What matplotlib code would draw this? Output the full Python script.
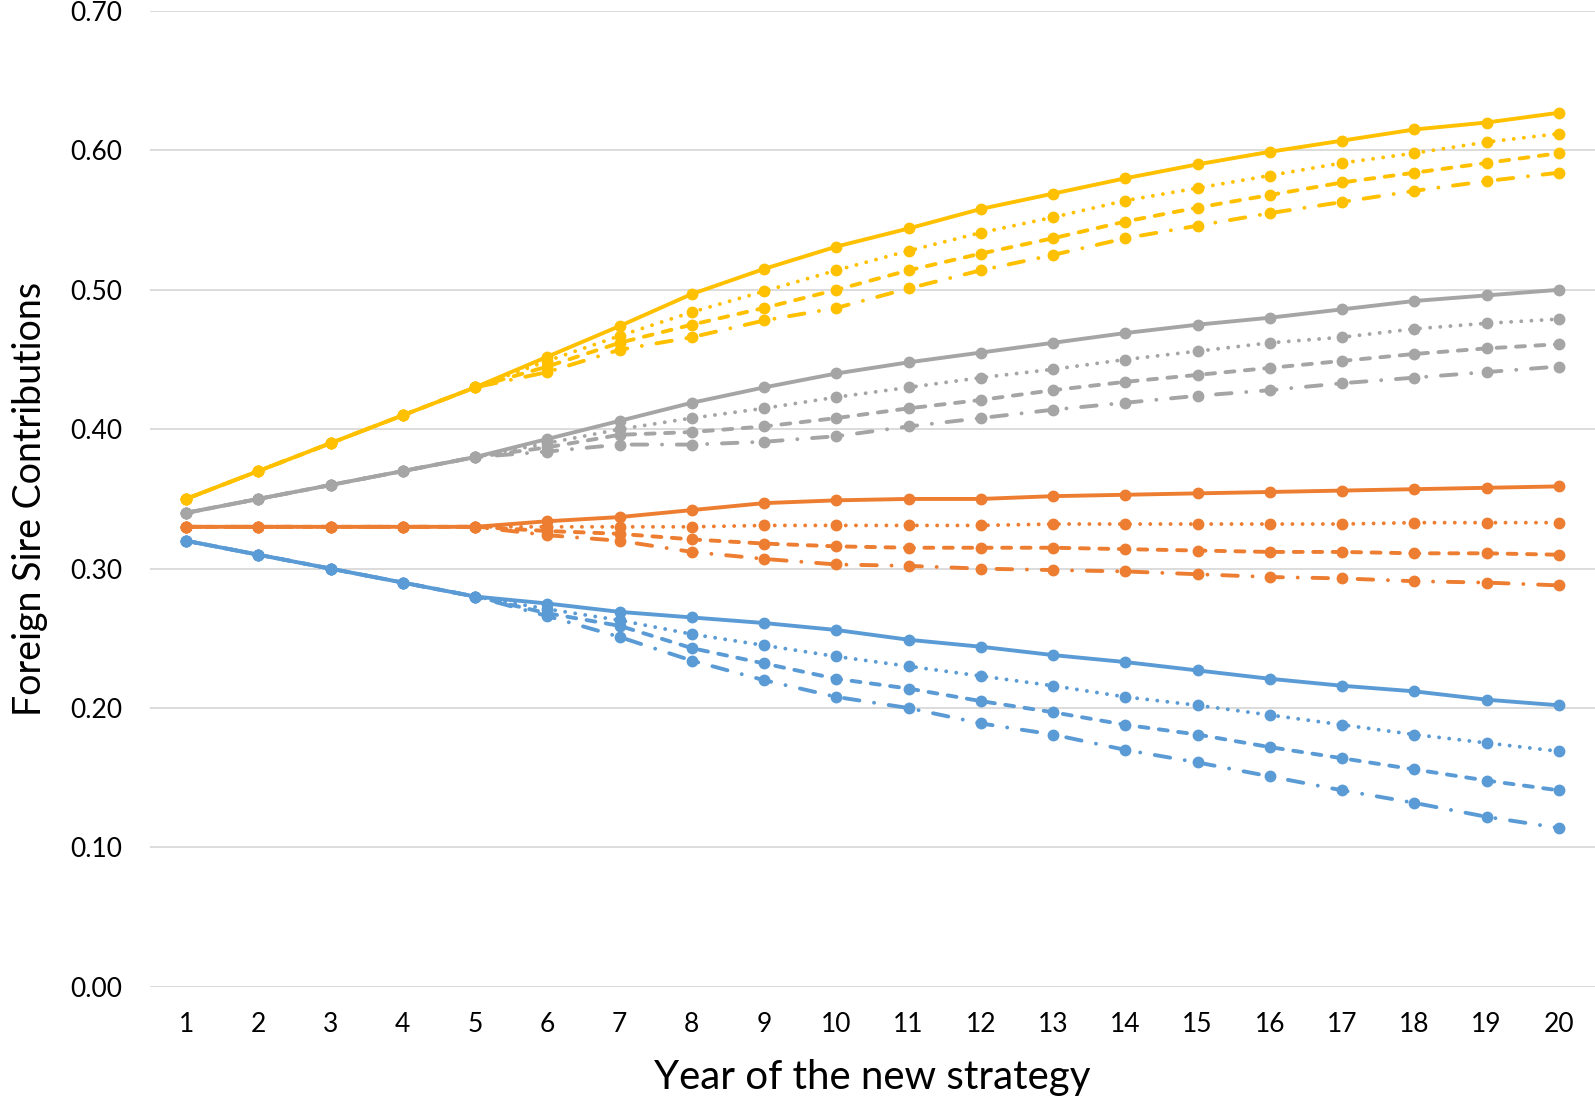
import matplotlib
matplotlib.use("Agg")
import matplotlib.pyplot as plt

years = list(range(1, 21))
yticks = [0.0, 0.1, 0.2, 0.3, 0.4, 0.5, 0.6, 0.7]

# shared first five years per colour group, then the four scenarios diverge
blue_solid = [0.320, 0.310, 0.300, 0.290, 0.280, 0.275, 0.269, 0.265, 0.261, 0.256,
              0.249, 0.244, 0.238, 0.233, 0.227, 0.221, 0.216, 0.212, 0.206, 0.202]
blue_dot = [0.320, 0.310, 0.300, 0.290, 0.280, 0.271, 0.263, 0.253, 0.245, 0.237,
            0.230, 0.223, 0.216, 0.208, 0.202, 0.195, 0.188, 0.181, 0.175, 0.169]
blue_dash = [0.320, 0.310, 0.300, 0.290, 0.280, 0.268, 0.259, 0.243, 0.232, 0.221,
             0.214, 0.205, 0.197, 0.188, 0.181, 0.172, 0.164, 0.156, 0.148, 0.141]
blue_dashdot = [0.320, 0.310, 0.300, 0.290, 0.280, 0.266, 0.251, 0.234, 0.220, 0.208,
                0.200, 0.189, 0.181, 0.170, 0.161, 0.151, 0.141, 0.132, 0.122, 0.114]

orange_solid = [0.330, 0.330, 0.330, 0.330, 0.330, 0.334, 0.337, 0.342, 0.347, 0.349,
                0.350, 0.350, 0.352, 0.353, 0.354, 0.355, 0.356, 0.357, 0.358, 0.359]
orange_dot = [0.330, 0.330, 0.330, 0.330, 0.330, 0.330, 0.330, 0.330, 0.331, 0.331,
              0.331, 0.331, 0.332, 0.332, 0.332, 0.332, 0.332, 0.333, 0.333, 0.333]
orange_dash = [0.330, 0.330, 0.330, 0.330, 0.330, 0.327, 0.325, 0.321, 0.318, 0.316,
               0.315, 0.315, 0.315, 0.314, 0.313, 0.312, 0.312, 0.311, 0.311, 0.310]
orange_dashdot = [0.330, 0.330, 0.330, 0.330, 0.330, 0.324, 0.320, 0.312, 0.307, 0.303,
                  0.302, 0.300, 0.299, 0.298, 0.296, 0.294, 0.293, 0.291, 0.290, 0.288]

gray_solid = [0.340, 0.350, 0.360, 0.370, 0.380, 0.393, 0.406, 0.419, 0.430, 0.440,
              0.448, 0.455, 0.462, 0.469, 0.475, 0.480, 0.486, 0.492, 0.496, 0.500]
gray_dot = [0.340, 0.350, 0.360, 0.370, 0.380, 0.390, 0.400, 0.408, 0.415, 0.423,
            0.430, 0.437, 0.443, 0.450, 0.456, 0.462, 0.466, 0.472, 0.476, 0.479]
gray_dash = [0.340, 0.350, 0.360, 0.370, 0.380, 0.387, 0.396, 0.398, 0.402, 0.408,
             0.415, 0.421, 0.428, 0.434, 0.439, 0.444, 0.449, 0.454, 0.458, 0.461]
gray_dashdot = [0.340, 0.350, 0.360, 0.370, 0.380, 0.384, 0.389, 0.389, 0.391, 0.395,
                0.402, 0.408, 0.414, 0.419, 0.424, 0.428, 0.433, 0.437, 0.441, 0.445]

yellow_solid = [0.350, 0.370, 0.390, 0.410, 0.430, 0.452, 0.474, 0.497, 0.515, 0.531,
                0.544, 0.558, 0.569, 0.580, 0.590, 0.599, 0.607, 0.615, 0.620, 0.627]
yellow_dot = [0.350, 0.370, 0.390, 0.410, 0.430, 0.449, 0.467, 0.484, 0.499, 0.514,
              0.528, 0.541, 0.552, 0.564, 0.573, 0.582, 0.591, 0.598, 0.606, 0.612]
yellow_dash = [0.350, 0.370, 0.390, 0.410, 0.430, 0.445, 0.462, 0.475, 0.487, 0.500,
               0.514, 0.526, 0.537, 0.549, 0.559, 0.568, 0.577, 0.584, 0.591, 0.598]
yellow_dashdot = [0.350, 0.370, 0.390, 0.410, 0.430, 0.441, 0.457, 0.466, 0.478, 0.487,
                  0.501, 0.514, 0.525, 0.537, 0.546, 0.555, 0.563, 0.571, 0.578, 0.584]

BLUE, ORANGE, GRAY, YELLOW = "#5B9BD5", "#ED7D31", "#A5A5A5", "#FFC000"

groups = [
    (BLUE, [blue_dashdot, blue_dash, blue_dot, blue_solid]),
    (ORANGE, [orange_dashdot, orange_dash, orange_dot, orange_solid]),
    (GRAY, [gray_dashdot, gray_dash, gray_dot, gray_solid]),
    (YELLOW, [yellow_dashdot, yellow_dash, yellow_dot, yellow_solid]),
]
# Excel-like patterns (in line widths, round caps add one width to each dash):
# long dash-dot, dash, round dot, solid
styles = [
    (0, (4.0, 3.8, 0.01, 3.8)),
    (0, (2.3, 2.7)),
    (0, (0.01, 2.6)),
    "-",
]

fig = plt.figure(figsize=(15.95, 10.99), dpi=100)
ax = fig.add_axes([0.094, 0.102, 0.906, 0.888])

for color, series in groups:
    for vals, ls in zip(series, styles):
        ax.plot(years, vals, color=color, linestyle=ls, linewidth=2.8,
                marker="o", markersize=7.5, dash_capstyle="round",
                solid_capstyle="round")

ax.set_xlim(0.5, 20.5)
ax.set_ylim(0, 0.7)
ax.set_yticks(yticks)
ax.set_yticklabels([f"{v:.2f}" for v in yticks])
ax.set_xticks(years)
ax.set_xticklabels([str(y) for y in years])
ax.tick_params(length=0, labelsize=19)
ax.xaxis.set_tick_params(pad=18)
ax.yaxis.set_tick_params(pad=20)
for lbl in ax.get_xticklabels() + ax.get_yticklabels():
    lbl.set_fontfamily("Lato")

ax.grid(axis="y", color="#D9D9D9", linewidth=1.3)
ax.set_axisbelow(True)
for s in ax.spines.values():
    s.set_visible(False)

ax.set_xlabel("Year of the new strategy", fontsize=29, family="Lato", labelpad=16)
ax.set_ylabel("Foreign Sire Contributions", fontsize=27, family="Lato", labelpad=16)

fig.savefig("out.png", dpi=100)
